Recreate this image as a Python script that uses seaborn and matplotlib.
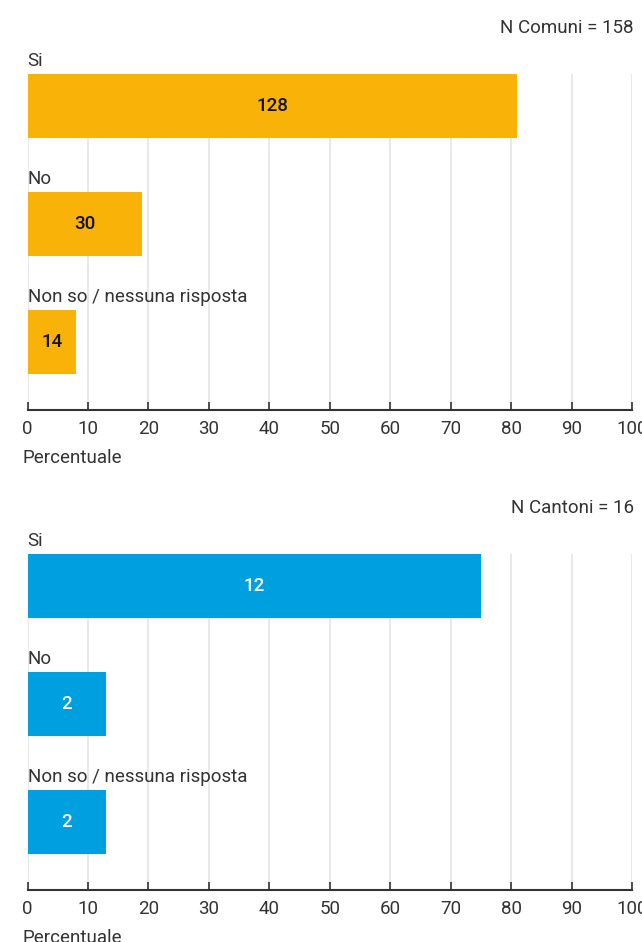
import matplotlib
matplotlib.use("Agg")
import matplotlib.pyplot as plt
import seaborn as sns
import pandas as pd

categories = ["Si", "No", "Non so / nessuna risposta"]

comuni_pct = [81, 19, 8]
comuni_n = [128, 30, 14]
comuni_total = 158

cantoni_pct = [75, 13, 13]
cantoni_n = [12, 2, 2]
cantoni_total = 16

xticks = [0, 10, 20, 30, 40, 50, 60, 70, 80, 90, 100]

ORANGE = "#F9B208"
BLUE = "#009FE0"
FS = 13.5

sns.set_theme(style="white")
plt.rcParams["font.family"] = ["Roboto", "DejaVu Sans"]

fig = plt.figure(figsize=(6.42, 9.42), dpi=100)

W, H = 642, 942
left = 27.5 / W
width = (632 - 27.5) / W
ax_h = 336 / H


def draw_panel(ax, pct, counts, color, text_color):
    df = pd.DataFrame({"cat": categories, "pct": pct, "n": counts})
    for x in xticks:
        ax.axvline(x, color="#e4e4e4", lw=1.2, zorder=0)
    sns.barplot(data=df, x="pct", y="cat", orient="h", color=color,
                saturation=1, width=0.54, linewidth=0, ax=ax, zorder=2)
    for i, (p, n) in enumerate(zip(pct, counts)):
        ax.text(p / 2, i, str(n), ha="center", va="center", fontsize=FS,
                fontweight="medium", color=text_color, zorder=3)
        ax.annotate(categories[i], xy=(0, i - 0.27), xycoords=("axes fraction", "data"),
                    xytext=(0, 3), textcoords="offset points", ha="left", va="bottom",
                    fontsize=FS, color="#333333", annotation_clip=False)
    ax.set_xlim(0, 100)
    ax.set_ylim(2.576, -0.271)
    ax.set_xticks(xticks)
    ax.set_yticks([])
    ax.set_ylabel("")
    ax.set_xlabel("Percentuale", loc="left", fontsize=FS, color="#333333")
    ax.xaxis.set_label_coords(-0.008, -0.117)
    ax.tick_params(axis="x", direction="in", length=6, width=1.2, color="#333333",
                   labelsize=FS, labelcolor="#333333", pad=7.5, bottom=True)
    for s in ["top", "right", "left"]:
        ax.spines[s].set_visible(False)
    ax.spines["bottom"].set_color("#333333")
    ax.spines["bottom"].set_linewidth(1.5)
    ax.set_facecolor("none")
    for lab in ax.get_xticklabels():
        lab.set_clip_on(False)


ax1 = fig.add_axes([left, 1 - 410 / H, width, ax_h])
draw_panel(ax1, comuni_pct, comuni_n, ORANGE, "#111111")
fig.text(634 / W, 1 - 28 / H, f"N Comuni = {comuni_total}", ha="right", va="center",
         fontsize=FS, color="#333333")

ax2 = fig.add_axes([left, 1 - 890 / H, width, ax_h])
draw_panel(ax2, cantoni_pct, cantoni_n, BLUE, "white")
fig.text(634 / W, 1 - 508 / H, f"N Cantoni = {cantoni_total}", ha="right", va="center",
         fontsize=FS, color="#333333")

fig.savefig("out.png", dpi=100, facecolor="white")
